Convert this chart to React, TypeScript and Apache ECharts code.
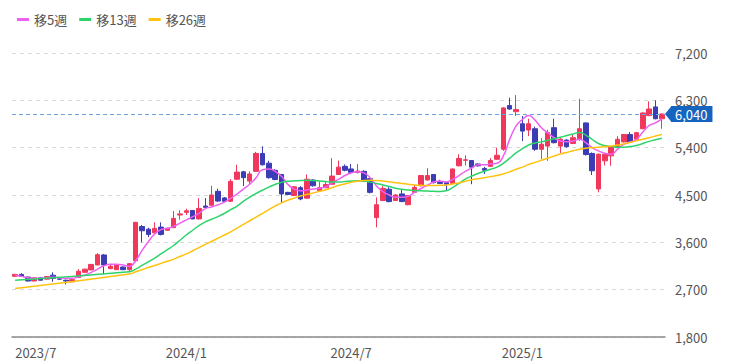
import React, { useEffect, useRef } from 'react';
import * as echarts from 'echarts';

// weekly candles: [open, close, low, high]
const OPEN = [2955,2990,2940,2865,2925,2900,2975,2905,2880,2850, 2930,3030,3075,3170,3360,3100,3080,3130,3080,3250, 3900,3850,3780,3890,3830,3880,4120,4170,4205,4045, 4290,4305,4570,4445,4380,4800,4940,4765,4950,5290, 5105,4970,4890,4550,4490,4640,4440,4785,4580,4640, 4705,4890,5045,4995,4930,4950,4810,4070,4395,4610, 4395,4520,4315,4550,4675,4785,4890,4750,4735,4720, 5055,5160,5155,5090,5005,5045,5180,5370,6200,6085, 5855,5735,5760,5370,5430,5780,5430,5545,5480,5560, 5870,5290,4615,5150,5245,5400,5510,5650,5560,5760, 6010,6175,5950];
const CLOSE = [2990,2950,2865,2925,2880,2950,2915,2900,2865,2890, 3050,3090,3180,3365,3170,3145,3170,3080,3195,3980, 3820,3750,3865,3750,3865,4055,4140,4200,4045,4245, 4265,4500,4385,4380,4760,4935,4830,4900,5290,5075, 4830,4795,4520,4510,4655,4425,4800,4675,4640,4700, 4860,5030,4970,4930,4955,4765,4550,4315,4625,4375, 4500,4375,4490,4645,4870,4870,4735,4720,4705,4995, 5195,5170,5030,5055,4970,5155,5255,6155,6135,6125, 5715,5855,5370,5465,5685,5495,5560,5420,5590,5760, 5270,4960,5275,5275,5420,5560,5650,5510,5685,6060, 6135,5950,6040];
const LOW = [2945,2945,2855,2860,2875,2895,2850,2890,2800,2845, 2925,3025,3070,3165,2990,3090,3075,3070,3030,3220, 3600,3700,3770,3730,3820,3870,4030,4120,4040,4035, 4240,4295,4370,4360,4370,4790,4670,4700,4940,5060, 4810,4780,4350,4500,4480,4400,4430,4660,4560,4630, 4695,4880,4950,4920,4910,4750,4530,3885,4385,4360, 4385,4365,4305,4540,4665,4775,4720,4710,4580,4710, 5045,5060,4705,5040,4900,5035,5170,5340,6120,6000, 5525,5620,5340,5180,5150,5480,5300,5400,5470,5530, 5250,4880,4550,5060,5055,5390,5500,5500,5550,5750, 6000,5940,5760];
const HIGH = [3000,3015,2945,2930,2935,2960,3030,2915,2890,2895, 3090,3100,3190,3395,3380,3170,3180,3140,3200,3990, 3930,3880,3980,3980,3880,4195,4210,4240,4215,4440, 4440,4675,4620,4460,4800,5075,4960,4950,5320,5425, 5150,4990,4900,4560,4670,4670,4890,4800,4760,4760, 5200,5155,5080,5090,5090,4970,4830,4455,4675,4650, 4520,4600,4500,4690,4880,5010,4900,4790,4750,5005, 5275,5255,5165,5100,5035,5200,5400,6170,6350,6400, 6000,5950,5800,5580,5740,5950,5580,5560,5650,6330, 5880,5310,5290,5290,5430,5620,5660,5695,5700,6070, 6280,6300,6050];

// moving averages
const MA5 = [2978,2953,2928,2915,2915,2928,2934,2928,2915,2915, 2947,2978,3029,3092,3156,3181,3181,3169,3143,3251, 3441,3612,3758,3841,3866,3904,3965,4026,4088,4150, 4242,4273,4316,4365,4439,4519,4612,4704,4827,4981, 4993,4950,4858,4704,4612,4581,4593,4612,4630,4655, 4735,4796,4870,4920,4944,4920,4827,4673,4562,4500, 4457,4457,4476,4550,4624,4685,4747,4765,4747,4796, 4870,4950,5012,5073,5073,5092,5104,5243,5558,5809, 5935,6011,5923,5778,5684,5589,5526,5514,5526,5558, 5495,5401,5338,5294,5275,5369,5464,5507,5558,5696, 5822,5872,5948];
const MA13 = [2880,null,null,null,null,null,null,null,null,null, null,null,null,null,null,null,null,null,3040,3090, 3160,3230,3300,3380,3460,3540,3640,3740,3830,3920, 3990,4040,4090,4150,4220,4290,4380,4460,4530,4590, 4650,4700,4740,4760,4770,4775,4780,4775,4765,4755, 4745,4745,4755,4765,4770,4765,4745,4720,4690,4660, 4630,4610,4595,4585,4580,4575,4570,4565,4580,4640, 4720,4800,4860,4910,4950,4990,5030,5100,5200,5300, 5380,5450,5490,5510,5540,5570,5600,5630,5660,5690, 5640,5560,5480,5440,5420,5410,5410,5420,5440,5480, 5520,5550,5580];
const MA26 = [2720,null,null,null,null,null,null,null,null,null, null,null,null,null,null,null,null,null,3000,3040, 3080,3120,3160,3200,3240,3280,3330,3380,3440,3500, 3560,3620,3680,3740,3800,3870,3940,4010,4080,4150, 4220,4290,4350,4400,4440,4480,4510,4540,4570,4600, 4640,4680,4710,4740,4760,4775,4780,4775,4765,4750, 4735,4720,4705,4690,4685,4680,4680,4685,4690,4710, 4730,4760,4790,4810,4830,4850,4870,4900,4940,4990, 5030,5080,5120,5160,5200,5240,5280,5310,5340,5370, 5390,5400,5410,5420,5430,5450,5470,5500,5530,5560, 5590,5620,5650];

const TICK_INDEX = [0, 27, 53, 80];
const TICK_TEXT = ['2023/7', '2024/1', '2024/7', '2025/1'];
const LAST_PRICE = 6040;
const Y_MIN = 1800;
const Y_MAX = 7200;
const Y_STEP = 900;

const UP = '#f0385c';
const DOWN = '#3c3cb4';
const GRID = { left: 12, right: 73, top: 53, bottom: 27 };
const W = 738;
const H = 364;

function weekLabels(n: number): string[] {
  const out: string[] = [];
  const start = new Date(2023, 6, 3);
  for (let i = 0; i < n; i++) {
    const d = new Date(start.getTime() + i * 7 * 86400000);
    out.push(`${d.getFullYear()}/${d.getMonth() + 1}/${d.getDate()}`);
  }
  return out;
}

export default function App() {
  const ref = useRef<HTMLDivElement>(null);
  useEffect(() => {
    if (!ref.current) return;
    const chart = echarts.init(ref.current, null, { renderer: 'svg' });
    const font = '"Noto Sans CJK JP", "Noto Sans", sans-serif';
    const dates = weekLabels(OPEN.length);
    const candles = OPEN.map((o, i) => [o, CLOSE[i], LOW[i], HIGH[i]]);
    const lineSeries = (name: string, data: (number | null)[], color: string) => ({
      name,
      type: 'line',
      data,
      showSymbol: false,
      smooth: true,
      connectNulls: true,
      lineStyle: { color, width: 1.5 },
      itemStyle: { color },
      z: 3,
    });
    chart.setOption({
      animation: false,
      backgroundColor: '#ffffff',
      textStyle: { fontFamily: font },
      legend: {
        left: 12,
        top: 8,
        icon: 'rect',
        itemWidth: 12,
        itemHeight: 3,
        itemGap: 12,
        textStyle: { color: '#555', fontSize: 13, fontFamily: font },
        data: ['移5週', '移13週', '移26週'],
      },
      grid: GRID,
      xAxis: {
        type: 'category',
        data: dates,
        boundaryGap: true,
        axisLine: { lineStyle: { color: '#8a8a8a', width: 1.5 } },
        axisTick: { show: false },
        splitLine: { show: false },
        axisLabel: {
          interval: (i: number) => TICK_INDEX.includes(i),
          formatter: (_v: string, i: number) => TICK_TEXT[TICK_INDEX.indexOf(i)] ?? '',
          color: '#555',
          fontSize: 13,
          margin: 9,
          alignMinLabel: 'left',
          fontFamily: font,
        },
      },
      yAxis: {
        type: 'value',
        position: 'right',
        min: Y_MIN,
        max: Y_MAX,
        interval: Y_STEP,
        axisLine: { show: false },
        axisTick: { show: false },
        axisLabel: {
          color: '#555',
          fontSize: 13,
          lineHeight: 11,
          margin: 10,
          fontFamily: font,
          formatter: (v: number) => v.toLocaleString('en-US'),
        },
        splitLine: { lineStyle: { color: '#d9d9d9', type: [4, 4] } },
      },
      series: [
        {
          type: 'candlestick',
          data: candles,
          barWidth: 5,
          itemStyle: { color: UP, color0: DOWN, borderColor: UP, borderColor0: DOWN, borderWidth: 1 },
          markLine: {
            silent: true,
            symbol: 'none',
            data: [{ yAxis: LAST_PRICE }],
            lineStyle: { color: '#6fa3dc', type: [4, 3], width: 1.2 },
            label: {
              position: 'end',
              distance: 6,
              formatter: () => LAST_PRICE.toLocaleString('en-US'),
              color: '#fff',
              backgroundColor: '#1565c0',
              padding: [2, 5, 1, 4],
              fontSize: 13,
              lineHeight: 13,
              fontFamily: font,
            },
          },
        },
        lineSeries('移5週', MA5, '#f060f0'),
        lineSeries('移13週', MA13, '#2dd46b'),
        lineSeries('移26週', MA26, '#ffc20e'),
      ],
    });
    const py = chart.convertToPixel({ yAxisIndex: 0 }, LAST_PRICE) as number;
    const gx = W - GRID.right;
    chart.setOption({
      graphic: [
        {
          type: 'polygon',
          shape: { points: [[gx, py], [gx + 6.5, py - 8], [gx + 6.5, py + 8]] },
          style: { fill: '#1565c0' },
          z: 100,
        },
      ],
    });
    return () => chart.dispose();
  }, []);
  return <div ref={ref} style={{ position: 'fixed', left: 0, top: 0, width: W, height: H }} />;
}
